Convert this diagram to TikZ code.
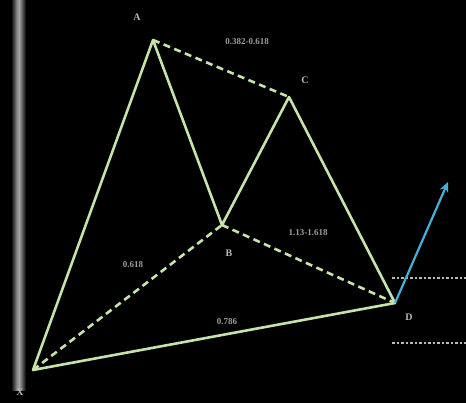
\documentclass[tikz,border=0pt]{standalone}
\usepackage{fontspec}
\setmainfont{Liberation Serif}
\usetikzlibrary{arrows.meta}
\begin{document}
\begin{tikzpicture}[x=1pt,y=-1pt,
  leg/.style={draw=pg, line width=2.6pt, line cap=round},
  ret/.style={leg, dash pattern=on 7pt off 4.5pt, line cap=butt},
  lab/.style={text=lg, font=\bfseries\fontsize{10}{11}\selectfont, inner sep=0pt},
  ratio/.style={text=lg!85!black, font=\bfseries\fontsize{9}{10}\selectfont, inner sep=0pt},
  lvl/.style={draw=lg, line width=1.8pt, dash pattern=on 2.5pt off 2pt}]
\definecolor{pg}{RGB}{198,228,170}
\definecolor{lg}{RGB}{185,185,185}
\definecolor{cy}{RGB}{70,175,215}
\fill[black] (0,0) rectangle (466,403);
\useasboundingbox (0,0) rectangle (466,403);
% vertical axis bar
\shade[left color=black, right color=black, middle color=gray!60] (11,0) rectangle (26,390);
\draw[gray!85, line width=1pt] (18.5,0) -- (18.5,390);
% points
\coordinate (X) at (33,370);
\coordinate (A) at (153,40);
\coordinate (B) at (222,225);
\coordinate (C) at (289,97);
\coordinate (D) at (395,303);
\coordinate (T) at (448,182);
\coordinate (l1s) at (392,278);
\coordinate (l1e) at (466,278);
\coordinate (l2s) at (392,343);
\coordinate (l2e) at (466,343);
% level lines
\draw[lvl] (l1s) -- (l1e);
\draw[lvl] (l2s) -- (l2e);
% retracement lines
\draw[ret] (A) -- (C);
\draw[ret] (X) -- (B);
\draw[ret] (B) -- (D);
% legs
\draw[leg, line join=round] (X) -- (A) -- (B) -- (C) -- (D) -- cycle;
% arrow
\draw[cy, line width=2.2pt, -{Stealth[length=10pt,width=9pt]}] (D) -- (T);
% labels
\node[lab] (la) at (137,17) {A};
\node[lab] (lc) at (305,80) {C};
\node[lab] (lb) at (229,253) {B};
\node[lab] (ld) at (409,317) {D};
\node[lab] (lx) at (20,392) {X};
\node[ratio] (r1) at (247,42) {0.382-0.618};
\node[ratio] (r2) at (308,233) {1.13-1.618};
\node[ratio] (r3) at (133,265) {0.618};
\node[ratio] (r4) at (227,322) {0.786};
\end{tikzpicture}
\end{document}
